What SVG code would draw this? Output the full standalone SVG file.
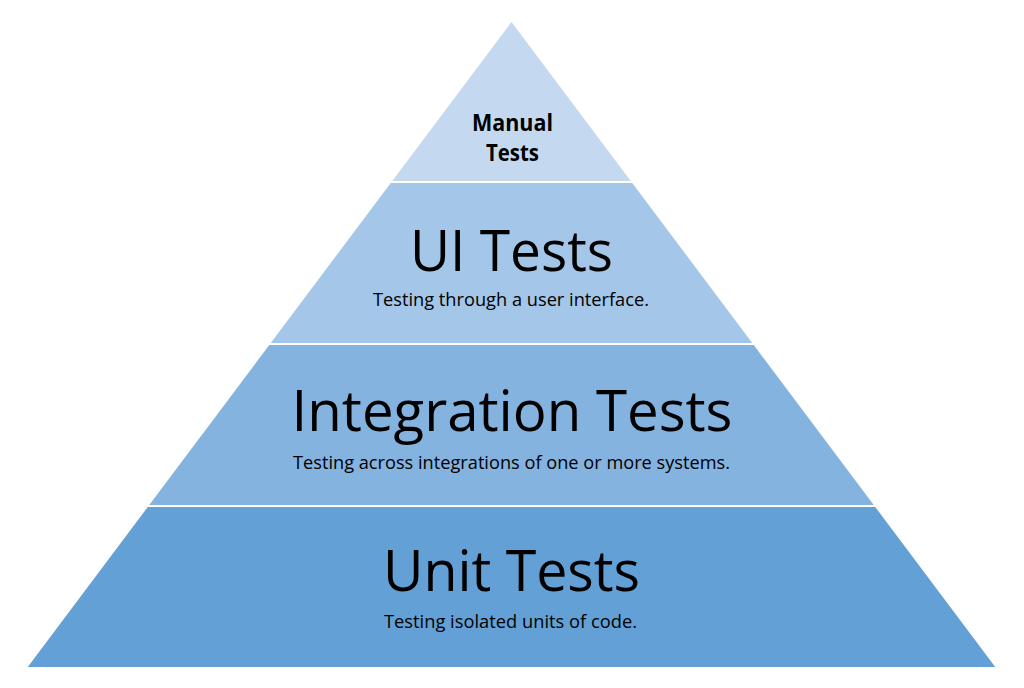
<svg xmlns="http://www.w3.org/2000/svg" width="1024" height="688" viewBox="0 0 1024 688">
<style>
.title{font-family:"Open Sans","Liberation Sans",sans-serif;font-size:57px;fill:#000;text-anchor:middle}
.sub{font-family:"Open Sans","Liberation Sans",sans-serif;font-size:19px;fill:#000;text-anchor:middle}
.top{font-family:"Open Sans","Liberation Sans",sans-serif;font-size:23px;font-weight:bold;fill:#000;text-anchor:middle}
</style>
<rect width="1024" height="688" fill="#fff"/>
<g id="manual">
<polygon points="511.5,22 630.75,181 392.25,181" fill="#C4D9EF"/>
<text class="top" x="512.5" y="131" textLength="81" lengthAdjust="spacingAndGlyphs">Manual</text>
<text class="top" x="512.5" y="161" textLength="53" lengthAdjust="spacingAndGlyphs">Tests</text>
</g>
<g id="ui">
<polygon points="390.75,183 632.25,183 752.25,343 270.75,343" fill="#A4C6E8"/>
<text class="title" x="511.5" y="271" textLength="203" lengthAdjust="spacingAndGlyphs">UI Tests</text>
<text class="sub" x="511" y="306" textLength="276" lengthAdjust="spacingAndGlyphs">Testing through a user interface.</text>
</g>
<g id="integration">
<polygon points="269.25,345 753.75,345 873.75,505 149.25,505" fill="#84B3E0"/>
<text class="title" x="512" y="431" textLength="441" lengthAdjust="spacingAndGlyphs">Integration Tests</text>
<text class="sub" x="511.5" y="469" textLength="437" lengthAdjust="spacingAndGlyphs">Testing across integrations of one or more systems.</text>
</g>
<g id="unit">
<polygon points="147.75,507 875.25,507 995.25,667 27.75,667" fill="#62A0D6"/>
<text class="title" x="511.5" y="591" textLength="257" lengthAdjust="spacingAndGlyphs">Unit Tests</text>
<text class="sub" x="510.5" y="628" textLength="253" lengthAdjust="spacingAndGlyphs">Testing isolated units of code.</text>
</g>
<g id="connectors"></g>
</svg>
